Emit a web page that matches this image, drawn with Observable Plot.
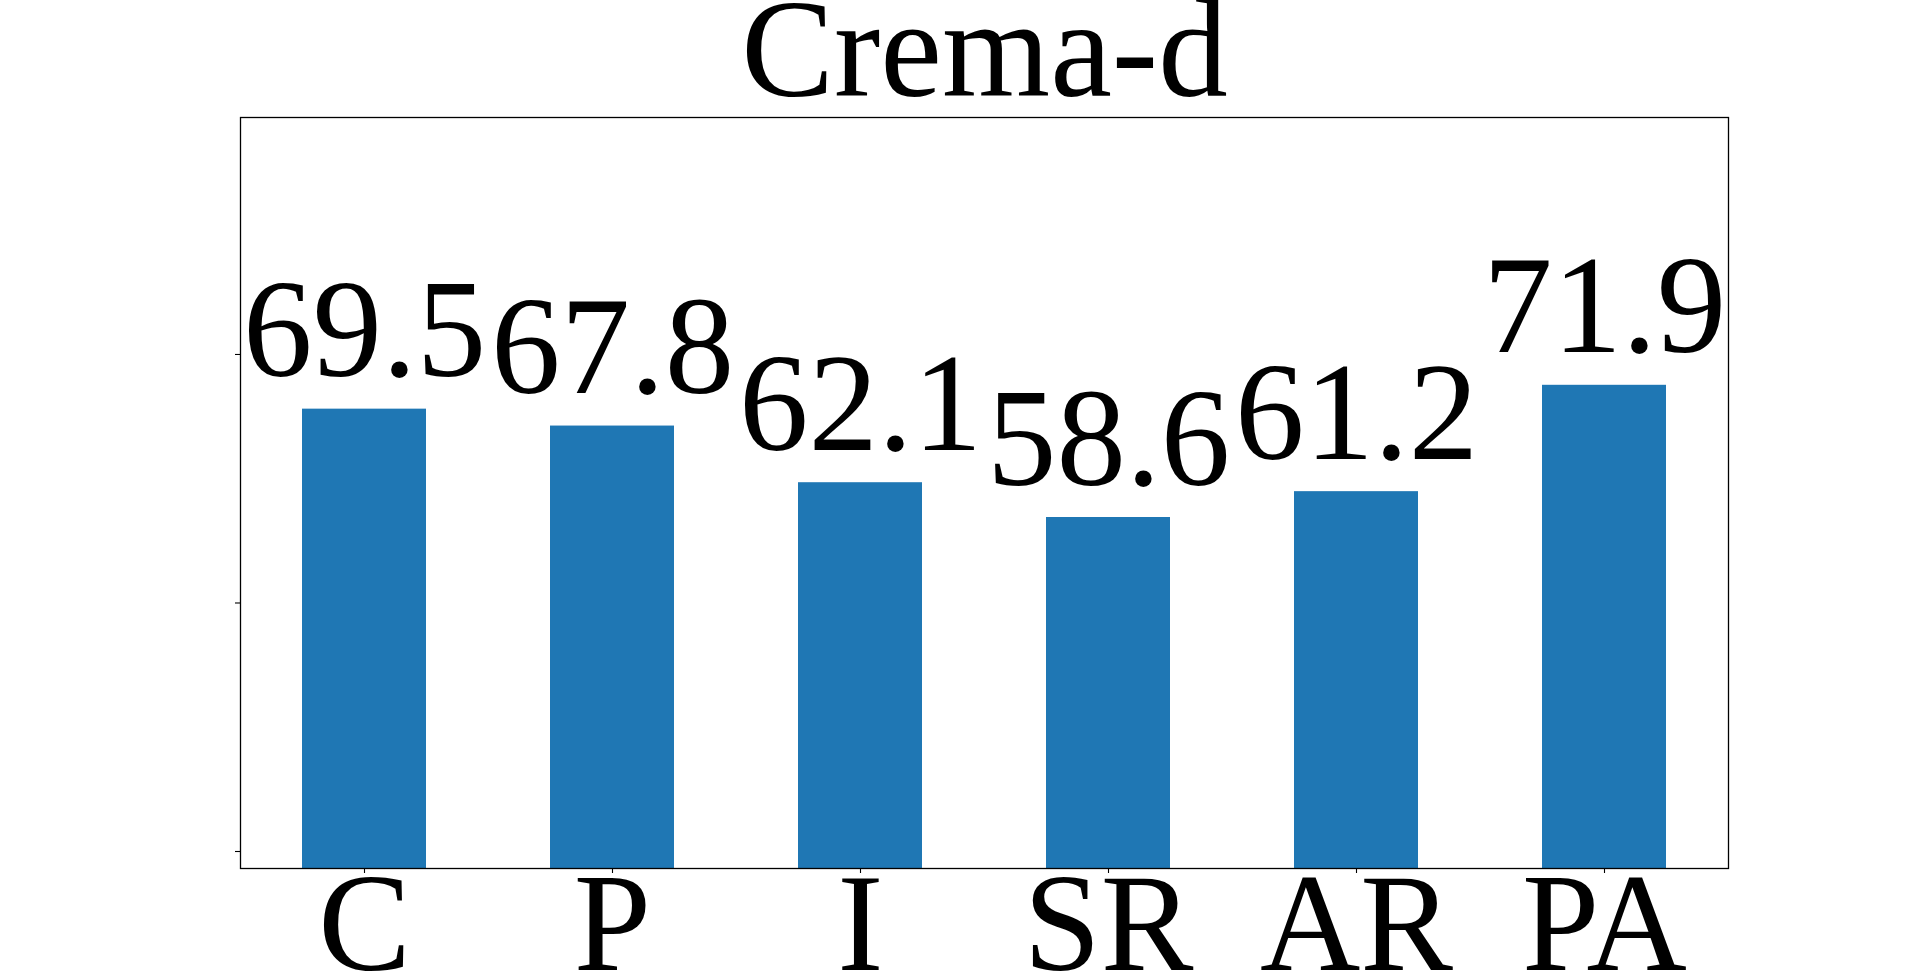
<!DOCTYPE html>
<html>
<head>
<meta charset="utf-8">
<script src="https://cdn.jsdelivr.net/npm/d3@7"></script>
<script src="https://cdn.jsdelivr.net/npm/@observablehq/plot@0.6"></script>
<style>
  html, body { margin: 0; padding: 0; background: #fff; overflow: hidden; }
  #chart svg { display: block; }
</style>
</head>
<body>
<div id="chart"></div>
<script>
const title = "Crema-d";
const categories = ["C", "P", "I", "SR", "AR", "PA"];
const values = [69.5, 67.8, 62.1, 58.6, 61.2, 71.9];
const yTicks = [25, 50, 75];
const yDomain = [23.29, 98.84];

const data = categories.map((c, i) => ({cat: c, value: values[i]}));
const font = "'Liberation Serif', 'Times New Roman', serif";

const chart = Plot.plot({
  width: 1920,
  height: 975,
  marginLeft: 240,
  marginRight: 192,
  marginTop: 117,
  marginBottom: 107,
  style: {fontFamily: font, background: "#fff", color: "#000"},
  x: {domain: categories, paddingInner: 0.5, paddingOuter: 0.25, align: 0.5},
  y: {domain: yDomain},
  marks: [
    Plot.barY(data, {x: "cat", y1: yDomain[0], y2: "value", fill: "#1f77b4", clip: true}),
    Plot.text(data, {x: "cat", y: "value", text: d => d.value.toFixed(1), dy: -33,
      lineAnchor: "bottom", fontSize: 139, fontFamily: font, fill: "#000"}),
    Plot.axisY({ticks: yTicks, tickSize: 5, tickFormat: () => "", label: null, strokeWidth: 1.1}),
    Plot.axisX({tickSize: 5, tickPadding: -2, fontSize: 139, fontFamily: font, label: null, strokeWidth: 1.1}),
    Plot.frame({stroke: "#000", strokeWidth: 1.3}),
    Plot.text([title], {frameAnchor: "top", dy: -22, lineAnchor: "bottom",
      fontSize: 139, fontFamily: font, fill: "#000"})
  ]
});
document.getElementById("chart").appendChild(chart);
</script>
</body>
</html>
